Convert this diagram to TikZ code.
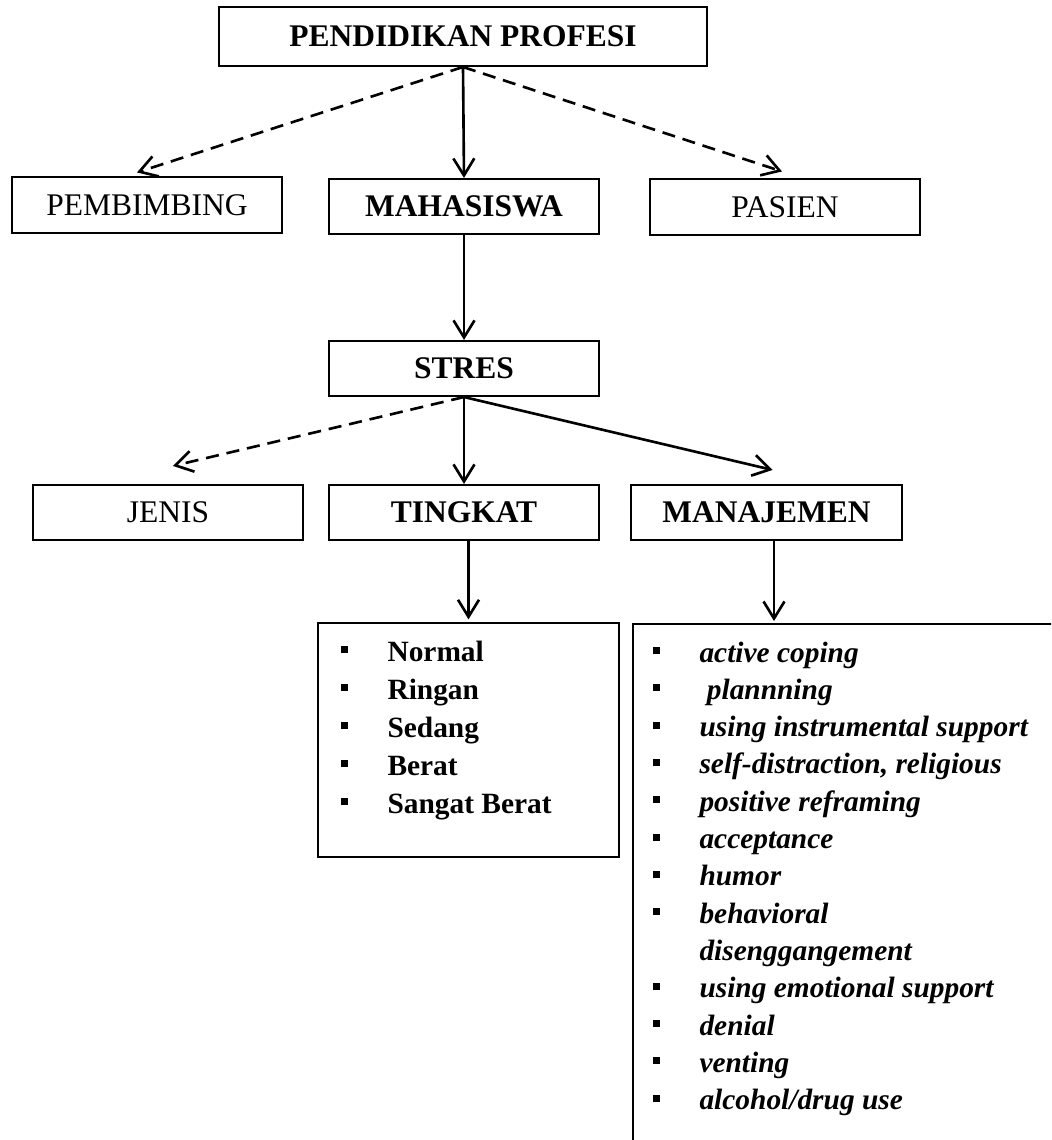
\documentclass[tikz,border=0pt]{standalone}
\usepackage{fontspec}
\setmainfont{Liberation Serif}
\usetikzlibrary{arrows.meta}

\begin{document}
\begin{tikzpicture}[x=0.381pt, y=-0.381pt, font=\fontsize{12}{14}\selectfont,
    box/.style={draw, line width=0.75pt, minimum width=102.9pt, minimum height=21pt, inner sep=0pt},
    boldbox/.style={box, font=\fontsize{12}{14}\selectfont\bfseries},
    arr/.style={line width=1pt, -{Straight Barb[length=6.5pt,width=8pt,line width=1pt]}},
    dasharr/.style={arr, dash pattern=on 5pt off 3pt},
    levelfont/.style={font=\fontsize{11.2}{13}\selectfont\bfseries, anchor=base west, inner sep=0pt},
    copefont/.style={font=\fontsize{11.2}{13}\selectfont\bfseries\itshape, anchor=base west, inner sep=0pt}]
  \useasboundingbox (0,0) rectangle (1051,1140);
  \clip (0,0) rectangle (1051,1140);

  % boxes
  \node[boldbox, minimum width=185.9pt, minimum height=22.5pt] (prof) at (463,36.5) {PENDIDIKAN PROFESI};
  \node[box]     (pemb)    at (147,205)     {PEMBIMBING};
  \node[boldbox] (mhs)     at (464,206.5)   {MAHASISWA};
  \node[box]     (pasien)  at (785,207)     {PASIEN};
  \node[boldbox] (stres)   at (464,368.5)   {STRES};
  \node[box]     (jenis)   at (168,512.5)   {JENIS};
  \node[boldbox] (tingkat) at (464,512.5)   {TINGKAT};
  \node[boldbox] (manaj)   at (766.5,512.5) {MANAJEMEN};
  \node[box, minimum width=114.7pt, minimum height=89.2pt] (tlist) at (468.5,740) {};
  \node[box, anchor=north west, minimum width=171.5pt, minimum height=205.7pt] (mlist) at (632,623) {};
  \coordinate (mdrop) at (774,621);

  % arrows
  \draw[dasharr] (prof.south) -- ([shift={(-10,-4)}]pemb.north);
  \draw[arr]     (prof.south) -- (mhs.north);
  \draw[dasharr] (prof.south) -- ([shift={(-3,-7)}]pasien.north);
  \draw[arr]     (mhs.south) -- (stres.north);
  \draw[dasharr] (stres.south) -- ([shift={(5,-18)}]jenis.north);
  \draw[arr]     (stres.south) -- (tingkat.north);
  \draw[arr]     (stres.south) -- ([shift={(6,-14)}]manaj.north);
  \draw[arr]     (tingkat.south -| tlist.north) -- ([yshift=1pt]tlist.north);
  \draw[arr]     (manaj.south -| mdrop) -- (mdrop);

  % tingkat list
  \foreach \txt [count=\i] in {Normal, Ringan, Sedang, Berat, Sangat Berat} {
    \fill (341,{661+(\i-1)*38-15}) rectangle (348,{661+(\i-1)*38-8});
    \node[levelfont] (lv\i) at (387,{661+(\i-1)*38}) {\txt};
  }

  % manajemen list
  \foreach \b/\txt [count=\i] in {1/active coping, 1/\ plannning, 1/using instrumental support,
      {1/self-distraction, religious}, 1/positive reframing, 1/acceptance, 1/humor,
      1/behavioral, 0/disenggangement, 1/using emotional support, 1/denial, 1/venting,
      1/alcohol\slash drug use} {
    \ifnum\b=1
      \fill (653,{662+(\i-1)*37.3-15}) rectangle (660,{662+(\i-1)*37.3-8});
    \fi
    \node[copefont] (cp\i) at (699,{662+(\i-1)*37.3}) {\txt};
  }
\end{tikzpicture}
\end{document}
